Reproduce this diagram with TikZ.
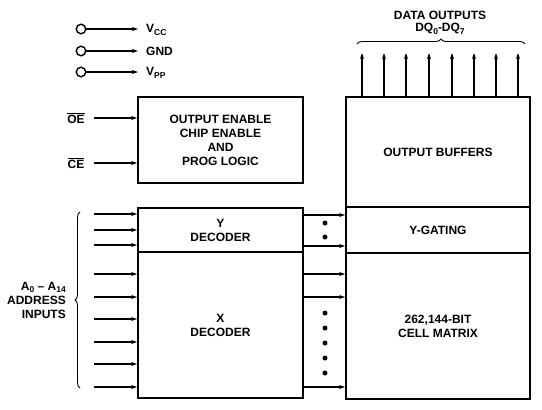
\documentclass[tikz,border=0pt]{standalone}
\usepackage{fontspec}
\setmainfont{Liberation Sans}
\usetikzlibrary{arrows.meta,decorations.pathreplacing,calc}
\newcommand\mysub[1]{\raisebox{-0.4ex}{\fontsize{8.5}{8.5}\selectfont #1}}
\begin{document}
\begin{tikzpicture}[x=1pt,y=-1pt,
  font=\fontsize{12}{14}\selectfont\bfseries,
  box/.style={draw, line width=1.6pt, inner sep=0pt, align=center, minimum width=165pt},
  rbox/.style={draw, line width=1.6pt, inner sep=0pt, align=center, minimum width=184pt},
  sig/.style={line width=1.2pt, -{Stealth[length=6pt,width=4pt]}},
  pin/.style={circle, draw, line width=1.4pt, minimum size=9.5pt, inner sep=0pt},
  lbl/.style={inner sep=0pt},
  dot/.style={circle, fill, minimum size=5pt, inner sep=0pt},
  brc/.style={decorate, decoration={brace, amplitude=5pt}, line width=0.9pt}]
\useasboundingbox (0,0) rectangle (542,410);

% power pins
\node[pin] (pvcc) at (81,29) {};
\node[pin] (pgnd) at (81,51) {};
\node[pin] (pvpp) at (81,72) {};
\coordinate (evcc) at (138,29);
\coordinate (egnd) at (138,51);
\coordinate (evpp) at (138,72);
\draw[sig] (pvcc) -- (evcc);
\draw[sig] (pgnd) -- (egnd);
\draw[sig] (pvpp) -- (evpp);
\node[lbl, anchor=west] (lvcc) at (146,30) {V\mysub{CC}};
\node[lbl, anchor=west] (lgnd) at (146,51) {GND};
\node[lbl, anchor=west] (lvpp) at (146,73) {V\mysub{PP}};

% left boxes
\node[box, minimum height=86pt] (ctl) at (220.5,140) {OUTPUT ENABLE\\CHIP ENABLE\\AND\\PROG LOGIC};
\node[box, minimum height=44pt] (ydec) at (220.5,230) {Y\\DECODER};
\node[box, minimum height=146pt] (xdec) at (220.5,325) {X\\DECODER};

% right column
\node[rbox, minimum height=110pt] (obuf) at (438,152) {OUTPUT BUFFERS};
\node[rbox, minimum height=46pt] (ygate) at (438,230) {Y-GATING};
\node[rbox, minimum height=146pt] (cell) at (438,326) {262,144-BIT\\CELL MATRIX};

% OE / CE
\node[lbl] (loe) at (76,118) {$\overline{\mbox{OE}}$};
\node[lbl] (lce) at (76,163) {$\overline{\mbox{CE}}$};
\coordinate (soe) at (94,118);
\coordinate (sce) at (94,163);
\draw[sig] (soe) -- (soe -| ctl.west);
\draw[sig] (sce) -- (sce -| ctl.west);

% address inputs
\foreach \y [count=\i] in {214,230,245,274,297,319,342,364,387}{
  \coordinate (a\i) at (94,\y);
  \draw[sig] (a\i) -- (a\i -| ydec.west);
}
\coordinate (bra) at (80,388);
\coordinate (brb) at (80,212);
\draw[brc] (bra) -- (brb);
\node[lbl, anchor=east, align=right] (laddr) at (66,300) {A\mysub{0} -- A\mysub{14}\\ADDRESS\\INPUTS};

% inter-column connections
\foreach \y [count=\i] in {215,246,274,297,387}{
  \coordinate (m\i) at (303,\y);
  \draw[sig] (m\i) -- (m\i -| obuf.west);
}
\foreach \y [count=\i] in {223,237,313,328,343,358,373}{
  \node[dot] (d\i) at (325,\y) {};
}

% data outputs
\foreach \x [count=\i] in {362,384,406,429,452,474,496,518}{
  \coordinate (q\i) at (\x,53);
  \draw[sig] (q\i |- obuf.north) -- (q\i);
}
\coordinate (brc1) at (357,44);
\coordinate (brc2) at (525,44);
\draw[brc] (brc1) -- (brc2);
\node[lbl] (ldata) at (440,15) {DATA OUTPUTS};
\node[lbl] (ldq) at (440,29) {DQ\mysub{0}-DQ\mysub{7}};
\end{tikzpicture}
\end{document}
